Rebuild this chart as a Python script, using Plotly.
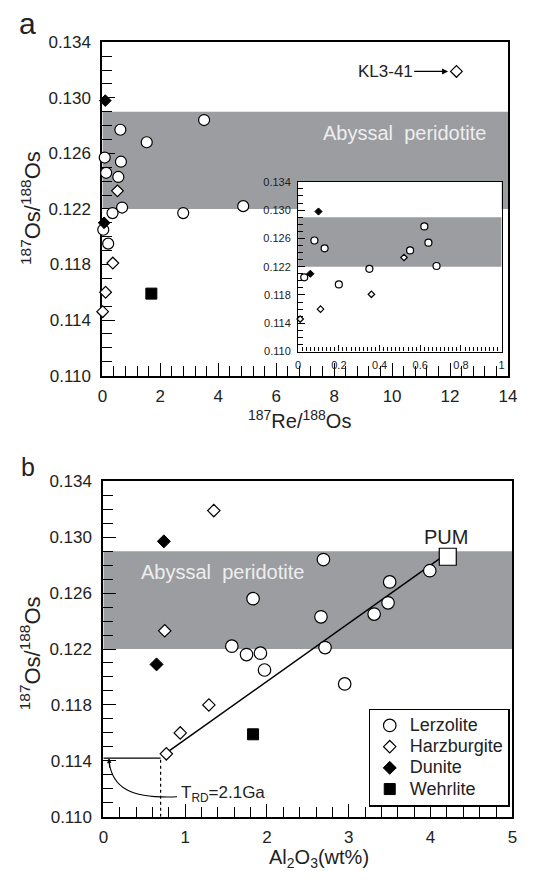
import plotly.graph_objects as go

W, H = 536, 885
FONT = "Liberation Sans, Arial, Helvetica, sans-serif"

# ---------------- data ----------------
# Panel a : 187Re/188Os vs 187Os/188Os
lz_reos = [3.51, 0.62, 1.53, 0.08, 0.64, 0.13, 0.55, 0.68, 0.35, 2.79, 4.86, 0.03, 0.20]
lz_os_a = [0.1284, 0.1277, 0.1268, 0.1257, 0.1254, 0.1246, 0.1243, 0.1221, 0.1217, 0.1217, 0.1222, 0.1205, 0.1195]
hz_reos = [0.52, 0.36, 0.11, 0.01, 12.22]
hz_os_a = [0.1233, 0.1181, 0.1160, 0.1146, 0.1319]
du_reos = [0.10, 0.06]
du_os_a = [0.1298, 0.1210]
we_reos = [1.69]
we_os_a = [0.1159]

# Panel b : Al2O3 vs 187Os/188Os
lz_al = [2.69, 3.99, 3.50, 1.83, 3.48, 3.31, 2.66, 1.57, 2.71, 1.75, 1.92, 1.97, 2.95]
lz_os_b = [0.1284, 0.1276, 0.1268, 0.1256, 0.1253, 0.1245, 0.1243, 0.1222, 0.1221, 0.1216, 0.1217, 0.1205, 0.1195]
hz_al = [1.35, 0.75, 1.29, 0.94, 0.77]
hz_os_b = [0.1319, 0.1233, 0.1180, 0.1160, 0.1145]
du_al = [0.74, 0.65]
du_os_b = [0.1297, 0.1209]
we_al = [1.83]
we_os_b = [0.1159]
pum_al = [4.21]
pum_os = [0.1286]

trend_al = [0.80, 4.12]
trend_os = [0.1147, 0.1285]
model_x = [0.0, 0.70]
model_y = [0.1142, 0.1142]
drop_x = [0.70, 0.70]
drop_y = [0.110, 0.1142]

band = [0.122, 0.129]          # abyssal peridotite range
y_ticks = [0.110, 0.114, 0.118, 0.122, 0.126, 0.130, 0.134]


def px(x):
    return x / W


def py(y):
    return 1 - y / H


fig = go.Figure()


def inset_subset(xs, ys, lim=1.0):
    pts = [(a, b) for a, b in zip(xs, ys) if a <= lim]
    return [p[0] for p in pts], [p[1] for p in pts]


open_circle = dict(symbol="circle", color="white", line=dict(color="black", width=1.2))
open_diam = dict(symbol="diamond", color="white", line=dict(color="black", width=1.2))
fill_diam = dict(symbol="diamond", color="black", line=dict(color="black", width=1))
fill_sq = dict(symbol="square", color="black", line=dict(color="black", width=1))

# ---- panel a main ----
for xs, ys, mk, sz in [(lz_reos, lz_os_a, open_circle, 11), (hz_reos, hz_os_a, open_diam, 9),
                       (du_reos, du_os_a, fill_diam, 9), (we_reos, we_os_a, fill_sq, 11)]:
    fig.add_trace(go.Scatter(x=xs, y=ys, mode="markers", xaxis="x", yaxis="y",
                             marker=dict(size=sz, **mk), showlegend=False, cliponaxis=False))

# ---- inset ----
for xs, ys, mk, sz in [(lz_reos, lz_os_a, open_circle, 7), (hz_reos, hz_os_a, open_diam, 5),
                       (du_reos, du_os_a, fill_diam, 5.5), (we_reos, we_os_a, fill_sq, 6)]:
    ix, iy = inset_subset(xs, ys)
    fig.add_trace(go.Scatter(x=ix, y=iy, mode="markers", xaxis="x2", yaxis="y2",
                             marker=dict(size=sz, **mk), showlegend=False, cliponaxis=False))

# ---- panel b ----
fig.add_trace(go.Scatter(x=trend_al, y=trend_os, mode="lines", xaxis="x3", yaxis="y3",
                         line=dict(color="black", width=1.5), showlegend=False))
fig.add_trace(go.Scatter(x=model_x, y=model_y, mode="lines", xaxis="x3", yaxis="y3",
                         line=dict(color="black", width=1.2), showlegend=False))
fig.add_trace(go.Scatter(x=drop_x, y=drop_y, mode="lines", xaxis="x3", yaxis="y3",
                         line=dict(color="black", width=1.2, dash="dot"), showlegend=False))

names = ["Lerzolite", "Harzburgite", "Dunite", "Wehrlite"]
for nm, xs, ys, mk, sz in [(names[0], lz_al, lz_os_b, open_circle, 12.5), (names[1], hz_al, hz_os_b, open_diam, 9.5),
                           (names[2], du_al, du_os_b, fill_diam, 10), (names[3], we_al, we_os_b, fill_sq, 11)]:
    fig.add_trace(go.Scatter(x=xs, y=ys, mode="markers", xaxis="x3", yaxis="y3",
                             name="<span style='font-size:18px'>%s</span>" % nm,
                             marker=dict(size=sz, **mk), showlegend=True, cliponaxis=False))
fig.add_trace(go.Scatter(x=pum_al, y=pum_os, mode="markers", xaxis="x3", yaxis="y3",
                         marker=dict(size=17, symbol="square", color="white", line=dict(color="black", width=1.2)),
                         showlegend=False, cliponaxis=False))


def axis(domain, rng, dtick, mdtick, anchor, fmt=None, fsize=17, lw=2, tl=13, mtl=10, stand=5):
    d = dict(domain=domain, range=rng, anchor=anchor, showline=True, linecolor="black",
             linewidth=lw, mirror=True, ticks="inside", ticklen=tl, tickwidth=1, tickcolor="black",
             showgrid=False, zeroline=False, dtick=dtick, tick0=rng[0],
             tickfont=dict(family=FONT, size=fsize, color="#222"),
             ticklabelstandoff=stand, layer="below traces",
             minor=dict(ticks="inside", ticklen=mtl, tickwidth=1, tickcolor="black", dtick=mdtick,
                        tick0=rng[0], showgrid=False))
    if fmt:
        d["tickformat"] = fmt
    return d


dom_a_x = [px(100), px(516.5)]
dom_a_y = [py(374.6), py(34)]
dom_i_x = [px(301), px(510)]
dom_i_y = [py(350.1), py(176.6)]
dom_b_x = [px(101), px(521)]
dom_b_y = [py(825.5), py(482.6)]

yr = [y_ticks[0], y_ticks[-1]]

fig.update_layout(
    width=W, height=H, margin=dict(l=0, r=0, t=0, b=0),
    paper_bgcolor="white", plot_bgcolor="white",
    font=dict(family=FONT, color="#222"),
    xaxis=axis(dom_a_x, [0, 14], 2, 0.4, "y", stand=4),
    yaxis=axis(dom_a_y, yr, 0.004, 0.001, "x", fmt=".3f", stand=6),
    xaxis2=axis(dom_i_x, [0, 1], 0.2, 0.02, "y2", fsize=11, lw=1.2, tl=6, mtl=4, stand=3),
    yaxis2=axis(dom_i_y, yr, 0.004, 0.001, "x2", fmt=".3f", fsize=11, lw=1.2, tl=7, mtl=4.5, stand=4),
    xaxis3=axis(dom_b_x, [0, 5], 1, 0.2, "y3", stand=4),
    yaxis3=axis(dom_b_y, yr, 0.004, 0.001, "x3", fmt=".3f", stand=6),
    legend=dict(x=px(373.3), y=py(715), xanchor="left", yanchor="top",
                bgcolor="white", bordercolor="black", borderwidth=1.2,
                font=dict(family=FONT, size=14, color="#222"),
                itemwidth=30, tracegroupgap=0),
    showlegend=True,
)

BAND = "#9c9da1"
shapes = [
    dict(type="rect", xref="x", yref="y", x0=0, x1=14, y0=band[0], y1=band[1],
         fillcolor=BAND, line=dict(width=0), layer="below"),
    dict(type="rect", xref="x2", yref="y2", x0=0, x1=1, y0=band[0], y1=band[1],
         fillcolor=BAND, line=dict(width=0), layer="below"),
    dict(type="rect", xref="x3", yref="y3", x0=0, x1=5, y0=band[0], y1=band[1],
         fillcolor=BAND, line=dict(width=0), layer="below"),
    dict(type="path", xref="x3", yref="y3",
         path="M 0.90,0.11143 C 0.35,0.1113 0.09,0.1120 0.068,0.11416",
         line=dict(color="black", width=1.1)),
]
fig.update_layout(shapes=shapes)

sup = "<sup>%s</sup>"
ann = []
# panel letters
ann.append(dict(text="a", xref="paper", yref="paper", x=px(23), y=py(14.6), xanchor="center", yanchor="middle",
                showarrow=False, font=dict(family=FONT, size=30, color="#222")))
ann.append(dict(text="b", xref="paper", yref="paper", x=px(24), y=py(467.7), xanchor="center", yanchor="middle",
                showarrow=False, font=dict(family=FONT, size=25, color="#222")))
# axis titles
ann.append(dict(text=sup % "187" + "Re/" + sup % "188" + "Os", xref="paper", yref="paper",
                x=px(302), y=py(420), xanchor="center", yanchor="middle", showarrow=False,
                font=dict(family=FONT, size=20, color="#222")))
ann.append(dict(text=sup % "187" + "Os/" + sup % "188" + "Os", xref="paper", yref="paper",
                x=px(26), y=py(203), xanchor="center", yanchor="middle", textangle=-90, showarrow=False,
                font=dict(family=FONT, size=22, color="#222")))
ann.append(dict(text="Al<sub>2</sub>O<sub>3</sub>(wt%)", xref="paper", yref="paper",
                x=px(322), y=py(868), xanchor="center", yanchor="middle", showarrow=False,
                font=dict(family=FONT, size=20, color="#222")))
ann.append(dict(text=sup % "187" + "Os/" + sup % "188" + "Os", xref="paper", yref="paper",
                x=px(26), y=py(658), xanchor="center", yanchor="middle", textangle=-90, showarrow=False,
                font=dict(family=FONT, size=22, color="#222")))
# band labels
ann.append(dict(text="Abyssal\u00a0\u00a0peridotite", xref="x", yref="y", x=13.31, y=0.12746,
                xanchor="right", yanchor="middle", showarrow=False,
                font=dict(family=FONT, size=20, color="#eeeeee")))
ann.append(dict(text="Abyssal\u00a0\u00a0peridotite", xref="x3", yref="y3", x=0.43, y=0.12753,
                xanchor="left", yanchor="middle", showarrow=False,
                font=dict(family=FONT, size=20, color="#eeeeee")))
# KL3-41 label with arrow
ann.append(dict(text="KL3-41", xref="x", yref="y", x=11.93, y=0.1319, ax=9.76, ay=0.1319,
                axref="x", ayref="y", showarrow=True, arrowhead=2, arrowsize=1, arrowwidth=1.2,
                arrowcolor="black", standoff=0, font=dict(family=FONT, size=17, color="#222")))
# PUM
ann.append(dict(text="PUM", xref="x3", yref="y3", x=4.19, y=0.1300, xanchor="center", yanchor="middle",
                showarrow=False, font=dict(family=FONT, size=20, color="#222")))
# T_RD
ann.append(dict(text="T<sub>RD</sub>=2.1Ga", xref="x3", yref="y3", x=0.93, y=0.11165,
                xanchor="left", yanchor="middle", showarrow=False,
                font=dict(family=FONT, size=17, color="#222")))
ann.append(dict(text="", xref="x3", yref="y3", x=0.068, y=0.11416, ax=0.078, ay=0.1134,
                axref="x3", ayref="y3", showarrow=True, arrowhead=2, arrowsize=0.8, arrowwidth=1.1,
                arrowcolor="black", standoff=0))
fig.update_layout(annotations=ann)

fig.write_html("out.html")
